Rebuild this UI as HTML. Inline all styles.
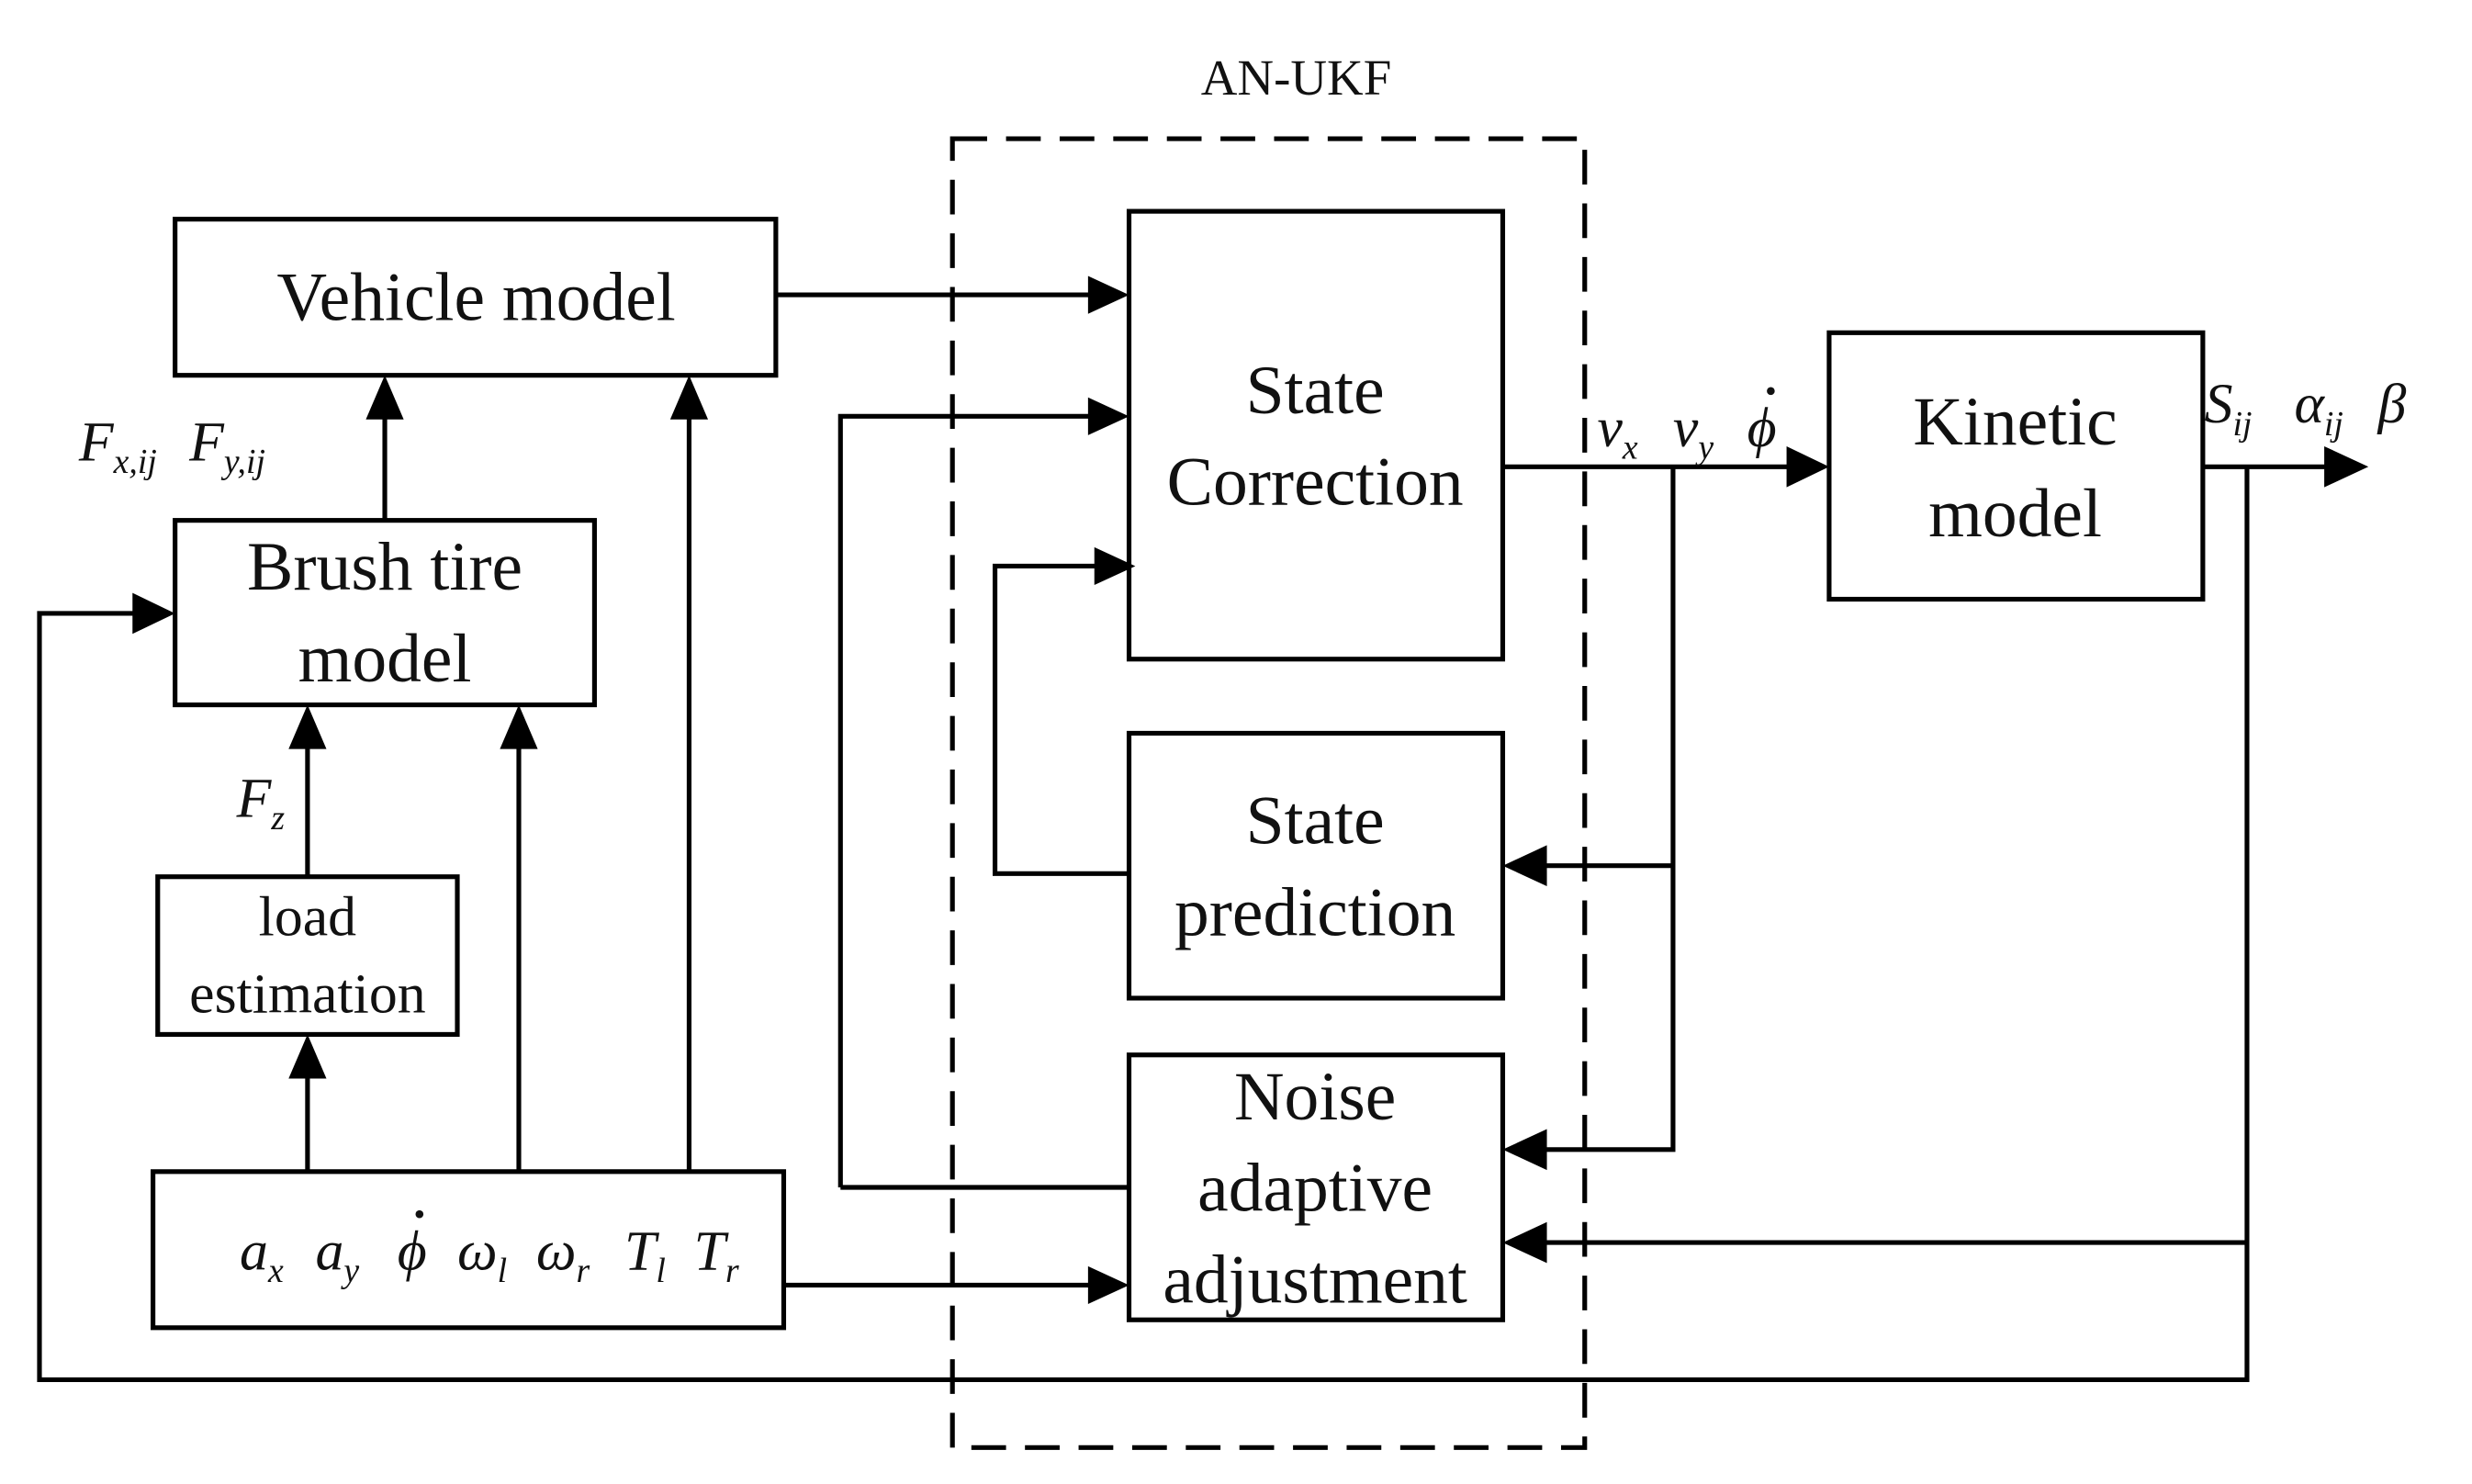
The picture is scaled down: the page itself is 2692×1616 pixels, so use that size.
<!DOCTYPE html>
<html><head><meta charset="utf-8"><style>
html,body{margin:0;padding:0;background:#fff}
svg{display:block}
text{font-family:"Liberation Serif",serif;fill:#111}
.it{font-style:italic}
</style></head><body>
<svg width="2692" height="1616" viewBox="0 0 1552 931.7" xmlns="http://www.w3.org/2000/svg">
<style>
.l{stroke:#000;stroke-width:3;fill:none}
.b{stroke:#000;stroke-width:3;fill:#fff}
</style>
<g transform="scale(0.99)">
<rect x="604" y="88" width="401" height="830" fill="none" stroke="#000" stroke-width="3" stroke-dasharray="22,12"/>
<text x="822" y="60" font-size="32" text-anchor="middle">AN-UKF</text>

<rect class="b" x="111" y="139" width="381" height="99"/>
<text x="302" y="203" font-size="44" text-anchor="middle">Vehicle model</text>
<rect class="b" x="716" y="134" width="237" height="284"/>
<text x="834" y="262" font-size="44" text-anchor="middle">State</text>
<text x="834" y="320" font-size="44" text-anchor="middle">Correction</text>
<rect class="b" x="716" y="465" width="237" height="168"/>
<text x="834" y="535" font-size="44" text-anchor="middle">State</text>
<text x="834" y="593" font-size="44" text-anchor="middle">prediction</text>
<rect class="b" x="716" y="669" width="237" height="168"/>
<text x="834" y="710" font-size="44" text-anchor="middle">Noise</text>
<text x="834" y="768" font-size="44" text-anchor="middle">adaptive</text>
<text x="834" y="826" font-size="44" text-anchor="middle">adjustment</text>
<rect class="b" x="1160" y="211" width="237" height="169"/>
<text x="1278" y="282" font-size="44" text-anchor="middle">Kinetic</text>
<text x="1278" y="340" font-size="44" text-anchor="middle">model</text>
<rect class="b" x="111" y="330" width="266" height="117"/>
<text x="244" y="374" font-size="44" text-anchor="middle">Brush tire</text>
<text x="244" y="432" font-size="44" text-anchor="middle">model</text>
<rect class="b" x="100" y="556" width="190" height="100"/>
<text x="195" y="593" font-size="36" text-anchor="middle">load</text>
<text x="195" y="642" font-size="36" text-anchor="middle">estimation</text>
<rect class="b" x="97" y="743" width="400" height="99"/>

<g class="l">
<path d="M492,187 H695"/>
<path d="M533,753 V264 H695"/>
<path d="M716,554 H631 V359 H699"/>
<path d="M716,753 H533"/>
<path d="M953,296 H1135"/>
<path d="M1061,296 V729 H978"/>
<path d="M1061,549 H978"/>
<path d="M1397,296 H1475"/>
<path d="M1425,296 V875 H25 V389 H86"/>
<path d="M1425,788 H978"/>
<path d="M244,330 V263"/>
<path d="M195,556 V472"/>
<path d="M195,743 V681"/>
<path d="M329,743 V472"/>
<path d="M437,743 V263"/>
<path d="M497,815 H691"/>
</g>
<g fill="#000">
<polygon points="716,187 690,175 690,199"/>
<polygon points="716,264 690,252 690,276"/>
<polygon points="720,359 694,347 694,371"/>
<polygon points="716,815 690,803 690,827"/>
<polygon points="1160,296 1133,283 1133,309"/>
<polygon points="1502,296 1474,283 1474,309"/>
<polygon points="953,549 981,536 981,562"/>
<polygon points="953,729 981,716 981,742"/>
<polygon points="953,788 981,775 981,801"/>
<polygon points="111,389 84,376 84,402"/>
<polygon points="244,238 232,266 256,266"/>
<polygon points="437,238 425,266 449,266"/>
<polygon points="195,447 183,475 207,475"/>
<polygon points="329,447 317,475 341,475"/>
<polygon points="195,656 183,684 207,684"/>
</g>

<g class="it">
<text x="50" y="292" font-size="36">F<tspan font-size="22" dy="8">x,ij</tspan></text>
<text x="120" y="292" font-size="36">F<tspan font-size="22" dy="8">y,ij</tspan></text>
<text x="150" y="518" font-size="36">F<tspan font-size="22" dy="8">z</tspan></text>
<text x="1013" y="283" font-size="36">v<tspan font-size="22" dy="8">x</tspan></text>
<text x="1061" y="283" font-size="36">v<tspan font-size="22" dy="8">y</tspan></text>
<text x="1108" y="283" font-size="36">ϕ</text>
<circle cx="1123" cy="248" r="2.5" fill="#111"/>
<text x="1398" y="268" font-size="36">S<tspan font-size="22" dy="8">ij</tspan></text>
<text x="1455" y="268" font-size="36">α<tspan font-size="22" dy="8">ij</tspan></text>
<text x="1508" y="268" font-size="36">β</text>
<text x="152" y="805" font-size="36">a<tspan font-size="22" dy="8">x</tspan></text>
<text x="200" y="805" font-size="36">a<tspan font-size="22" dy="8">y</tspan></text>
<text x="252" y="805" font-size="36">ϕ</text>
<circle cx="266" cy="770" r="2.5" fill="#111"/>
<text x="290" y="805" font-size="36">ω<tspan font-size="22" dy="8">l</tspan></text>
<text x="340" y="805" font-size="36">ω<tspan font-size="22" dy="8">r</tspan></text>
<text x="396" y="805" font-size="36">T<tspan font-size="22" dy="8">l</tspan></text>
<text x="440" y="805" font-size="36">T<tspan font-size="22" dy="8">r</tspan></text>
</g>
</g>
</svg>
</body></html>
